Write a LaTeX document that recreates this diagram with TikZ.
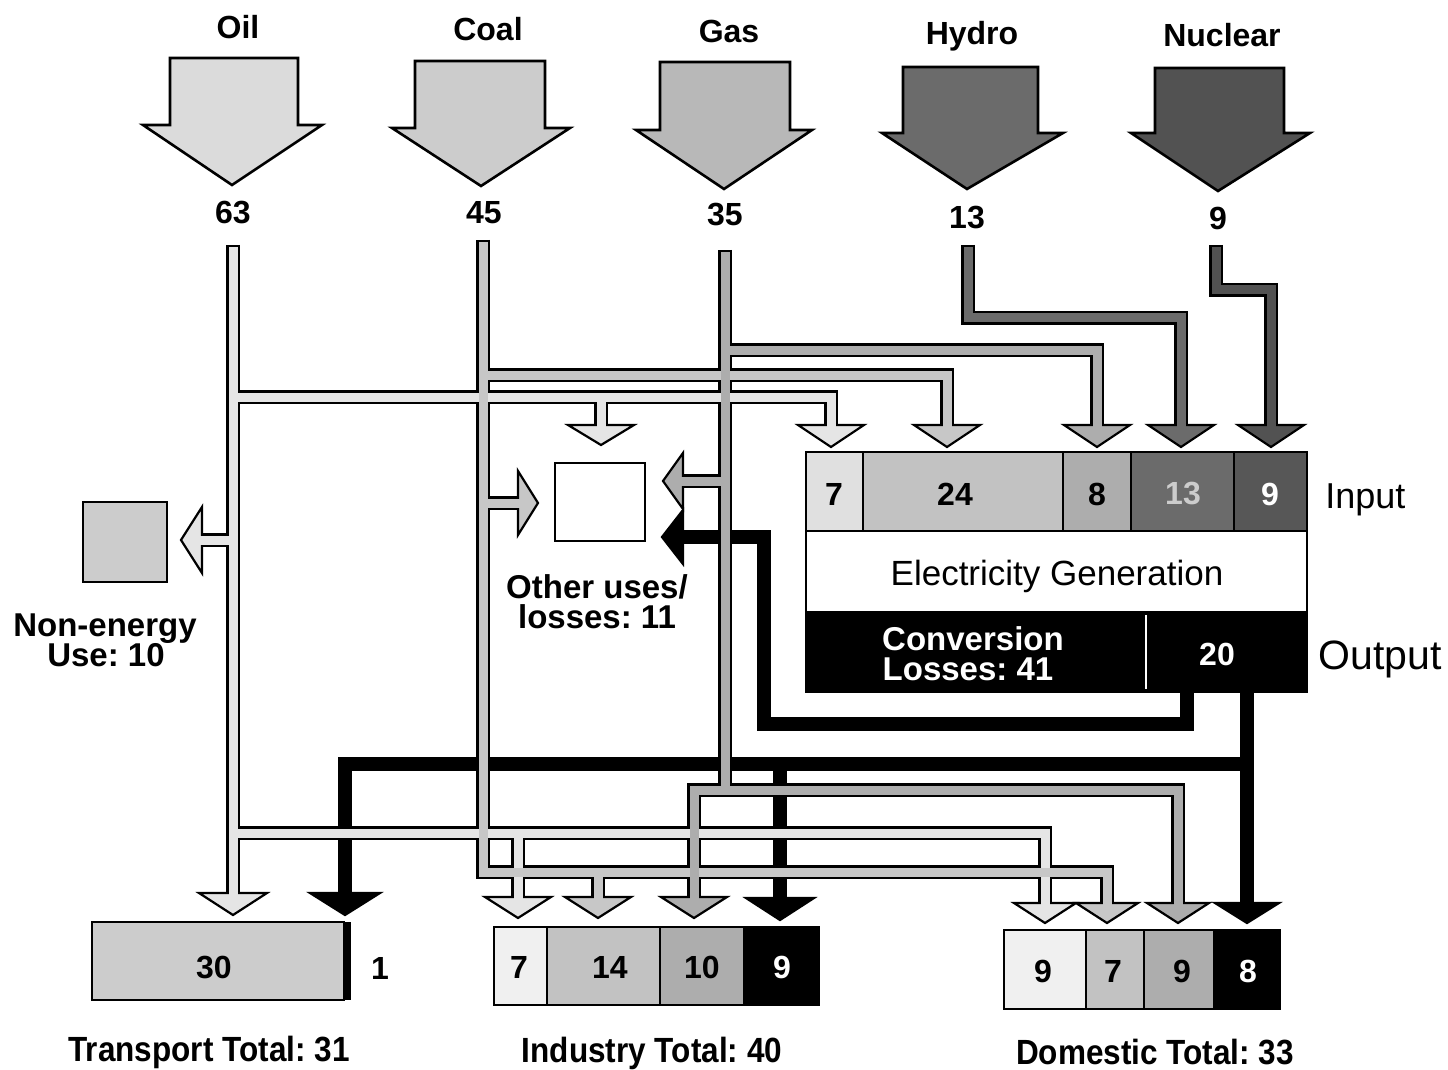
\documentclass[tikz,border=0pt]{standalone}
\usepackage{fontspec}
\setmainfont{Liberation Sans}
\newfontfamily\condfont[FakeStretch=0.9]{Liberation Sans}
\frenchspacing
\definecolor{oilA}{gray}{0.86}
\definecolor{coalA}{gray}{0.80}
\definecolor{gasA}{gray}{0.72}
\definecolor{hydA}{gray}{0.42}
\definecolor{nucA}{gray}{0.32}
\definecolor{oilP}{gray}{0.90}
\definecolor{coalP}{gray}{0.78}
\definecolor{gasP}{gray}{0.68}
\definecolor{hydP}{gray}{0.42}
\definecolor{nucP}{gray}{0.32}
\definecolor{cellOil}{gray}{0.88}
\definecolor{cellCoal}{gray}{0.76}
\definecolor{cellGas}{gray}{0.68}
\definecolor{cellHyd}{gray}{0.42}
\definecolor{cellNuc}{gray}{0.34}
\definecolor{cellPale}{gray}{0.94}
\newcommand{\dhead}[5]{\filldraw[headst=#5] ({#1-#4},#2) -- ({#1+#4},#2) -- (#1,#3) -- cycle;}
\newcommand{\hhead}[5]{\filldraw[headst=#5] (#1,{#2-#4}) -- (#1,{#2+#4}) -- (#3,#2) -- cycle;}
\newcommand{\bigarrow}[9]{\filldraw[bigarr=#9] (#1,#3) -- (#2,#3) -- (#2,#4) -- (#6,#4) -- (#7,#8) -- (#5,#4) -- (#1,#4) -- cycle;}
\begin{document}
\begin{tikzpicture}[x=0.5pt,y=-0.5pt,
  pout/.style={draw=black,line width=7pt,line join=miter},
  pfill/.style={draw=#1,line width=4.5pt,line join=miter},
  bpipe/.style={draw=black,line width=7pt,line join=miter},
  headst/.style={fill=#1,draw=black,line width=1.1pt,line join=miter},
  bigarr/.style={fill=#1,draw=black,line width=1.3pt,line join=miter},
  cellbox/.style={draw=black,line width=0.9pt},
  lbl/.style={font=\fontsize{16}{19}\selectfont\bfseries,inner sep=0pt},
  numw/.style={font=\fontsize{16}{19}\selectfont\bfseries,inner sep=0pt,text=white},
  totl/.style={font=\condfont\fontsize{17.5}{20}\selectfont\bfseries,inner sep=0pt},
  reg/.style={inner sep=0pt}]
\useasboundingbox (0,0) rectangle (1448,1070);
\fill[white] (0,0) rectangle (1448,1070);

% ---------- source arrows ----------
\bigarrow{170}{298}{58}{125}{143}{322}{232}{185}{oilA}
\bigarrow{415}{545}{61}{128}{392}{570}{481}{186}{coalA}
\bigarrow{660}{790}{62}{130}{636}{812}{724}{189}{gasA}
\bigarrow{903}{1038}{67}{133}{882}{1063}{967}{189}{hydA}
\bigarrow{1155}{1284}{68}{133}{1131}{1310}{1218}{191}{nucA}

\node[lbl,anchor=base] (tOil) at (238,39) {Oil};
\node[lbl,anchor=base] (tCoal) at (488,41) {Coal};
\node[lbl,anchor=base] (tGas) at (729,43) {Gas};
\node[lbl,anchor=base] (tHyd) at (972,45) {Hydro};
\node[lbl,anchor=base] (tNuc) at (1222,47) {Nuclear};
\node[lbl,anchor=base] (nOil) at (233,224) {63};
\node[lbl,anchor=base] (nCoal) at (484,224) {45};
\node[lbl,anchor=base] (nGas) at (725,226) {35};
\node[lbl,anchor=base] (nHyd) at (967,228) {13};
\node[lbl,anchor=base] (nNuc) at (1218,230) {9};

% ---------- electricity (black) pipes ----------
\draw[bpipe] (1187,690) -- (1187,724) -- (764,724) -- (764,537) -- (683,537);
\draw[bpipe] (1247,690) -- (1247,903);
\draw[bpipe] (1247,764) -- (345,764) -- (345,893);
\draw[bpipe] (780,764) -- (780,898);
\hhead{683}{537}{662}{27}{black}
\dhead{1247}{903}{923}{32}{black}
\dhead{345}{893}{915}{35}{black}
\dhead{780}{898}{920}{34}{black}

% ---------- pipe outlines ----------
% oil
\draw[pout] (233,245) -- (233,893);
\draw[pout] (233,397) -- (831,397) -- (831,425);
\draw[pout] (601,397) -- (601,425);
\draw[pout] (233,540) -- (202,540);
\draw[pout] (233,833) -- (1045,833) -- (1045,903);
\draw[pout] (518,833) -- (518,897);
% coal
\draw[pout] (483,240) -- (483,872) -- (1107,872) -- (1107,903);
\draw[pout] (483,375) -- (947,375) -- (947,425);
\draw[pout] (483,503) -- (518,503);
\draw[pout] (598,872) -- (598,897);
% gas
\draw[pout] (725,250) -- (725,790);
\draw[pout] (694,897) -- (694,790) -- (1178,790) -- (1178,903);
\draw[pout] (725,350) -- (1097,350) -- (1097,425);
\draw[pout] (725,481) -- (683,481);
% hydro, nuclear
\draw[pout] (968,245) -- (968,318) -- (1181,318) -- (1181,425);
\draw[pout] (1216,245) -- (1216,290) -- (1271,290) -- (1271,425);

% ---------- arrow heads ----------
\dhead{233}{893}{915}{34}{oilP}
\dhead{831}{425}{447}{33}{oilP}
\dhead{601}{425}{445}{33}{oilP}
\hhead{202}{540}{181}{33}{oilP}
\dhead{1045}{903}{923}{31}{oilP}
\dhead{518}{897}{918}{33}{oilP}
\dhead{1107}{903}{923}{31}{coalP}
\dhead{947}{425}{447}{33}{coalP}
\hhead{518}{503}{538}{32}{coalP}
\dhead{598}{897}{918}{33}{coalP}
\dhead{694}{897}{918}{33}{gasP}
\dhead{1178}{903}{923}{31}{gasP}
\dhead{1097}{425}{447}{33}{gasP}
\hhead{683}{481}{663}{28}{gasP}
\dhead{1181}{425}{447}{33}{hydP}
\dhead{1271}{425}{447}{33}{nucP}

% ---------- pipe fills ----------
\draw[pfill=oilP] (233,247.5) -- (233,896);
\draw[pfill=oilP] (233,397) -- (831,397) -- (831,428);
\draw[pfill=oilP] (601,397) -- (601,428);
\draw[pfill=oilP] (233,540) -- (199,540);
\draw[pfill=oilP] (233,833) -- (1045,833) -- (1045,906);
\draw[pfill=oilP] (518,833) -- (518,900);
\draw[pfill=coalP] (483,242.5) -- (483,872) -- (1107,872) -- (1107,906);
\draw[pfill=coalP] (483,375) -- (947,375) -- (947,428);
\draw[pfill=coalP] (483,503) -- (521,503);
\draw[pfill=coalP] (598,872) -- (598,900);
\draw[pfill=gasP] (725,252.5) -- (725,790);
\draw[pfill=gasP] (694,900) -- (694,790) -- (1178,790) -- (1178,906);
\draw[pfill=gasP] (725,350) -- (1097,350) -- (1097,428);
\draw[pfill=gasP] (725,481) -- (680,481);
\draw[pfill=hydP] (968,247.5) -- (968,318) -- (1181,318) -- (1181,428);
\draw[pfill=nucP] (1216,247.5) -- (1216,290) -- (1271,290) -- (1271,428);

% ---------- electricity generation box ----------
\draw[cellbox,fill=cellOil] (806,452) rectangle (863,531);
\draw[cellbox,fill=cellCoal] (863,452) rectangle (1063,531);
\draw[cellbox,fill=cellGas] (1063,452) rectangle (1131,531);
\draw[cellbox,fill=cellHyd] (1131,452) rectangle (1234,531);
\draw[cellbox,fill=cellNuc] (1234,452) rectangle (1307,531);
\draw[cellbox,fill=white] (806,531) rectangle (1307,612);
\draw[cellbox,fill=black] (806,612) rectangle (1307,692);
\draw[white,line width=0.6pt] (1146,615) -- (1146,689);
\node[lbl] (e1) at (834,494) {7};
\node[lbl] (e2) at (955,494) {24};
\node[lbl] (e3) at (1097,494) {8};
\node[lbl,text=white!80!black] (e4) at (1183,494) {13};
\node[numw] (e5) at (1270,494) {9};
\node[reg,anchor=base,font=\fontsize{17.5}{20}\selectfont] (egen) at (1057,585) {Electricity Generation};
\node[numw,anchor=base,font=\fontsize{16.5}{19}\selectfont\bfseries] (conv1) at (973,650) {Conversion};
\node[numw,anchor=base,font=\fontsize{16.5}{19}\selectfont\bfseries] (conv2) at (968,680) {Losses: 41};
\node[numw] (eout) at (1217,654) {20};
\node[reg,anchor=base west,font=\fontsize{18}{21}\selectfont] (inp) at (1325,508) {Input};
\node[reg,anchor=base west,font=\fontsize{20.5}{24}\selectfont] (outp) at (1318,669) {Output};

% ---------- other uses and non-energy ----------
\draw[cellbox,fill=white] (555,463) rectangle (645,541);
\node[lbl,anchor=base,font=\fontsize{16.5}{19}\selectfont\bfseries] (oth1) at (597,598) {Other uses/};
\node[lbl,anchor=base,font=\fontsize{16.5}{19}\selectfont\bfseries] (oth2) at (597,628) {losses: 11};
\draw[cellbox,fill=coalA] (83,502) rectangle (167,582);
\node[lbl,anchor=base,font=\fontsize{16.5}{19}\selectfont\bfseries] (ne1) at (105,636) {Non-energy};
\node[lbl,anchor=base,font=\fontsize{16.5}{19}\selectfont\bfseries] (ne2) at (106,666) {Use: 10};

% ---------- transport ----------
\draw[cellbox,fill=coalA] (92,922) rectangle (344,1000);
\fill[black] (344,922) rectangle (351,1000);
\node[lbl] (t30) at (214,968) {30};
\node[lbl] (t1) at (380,968) {1};
\node[totl,anchor=base] (ttot) at (209,1061) {Transport Total: 31};

% ---------- industry ----------
\draw[cellbox,fill=cellPale] (494,927) rectangle (547,1005);
\draw[cellbox,fill=cellCoal] (547,927) rectangle (660,1005);
\draw[cellbox,fill=cellGas] (660,927) rectangle (744,1005);
\draw[cellbox,fill=black] (744,927) rectangle (819,1005);
\node[lbl] (i1) at (519,967) {7};
\node[lbl] (i2) at (610,967) {14};
\node[lbl] (i3) at (702,967) {10};
\node[numw] (i4) at (782,967) {9};
\node[totl,anchor=base] (itot) at (652,1062) {Industry Total: 40};

% ---------- domestic ----------
\draw[cellbox,fill=cellPale] (1004,930) rectangle (1086,1009);
\draw[cellbox,fill=cellCoal] (1086,930) rectangle (1144,1009);
\draw[cellbox,fill=cellGas] (1144,930) rectangle (1214,1009);
\draw[cellbox,fill=black] (1214,930) rectangle (1280,1009);
\node[lbl] (d1) at (1043,971) {9};
\node[lbl] (d2) at (1113,971) {7};
\node[lbl] (d3) at (1182,971) {9};
\node[numw] (d4) at (1248,971) {8};
\node[totl,anchor=base] (dtot) at (1155,1064) {Domestic Total: 33};
\end{tikzpicture}
\end{document}
